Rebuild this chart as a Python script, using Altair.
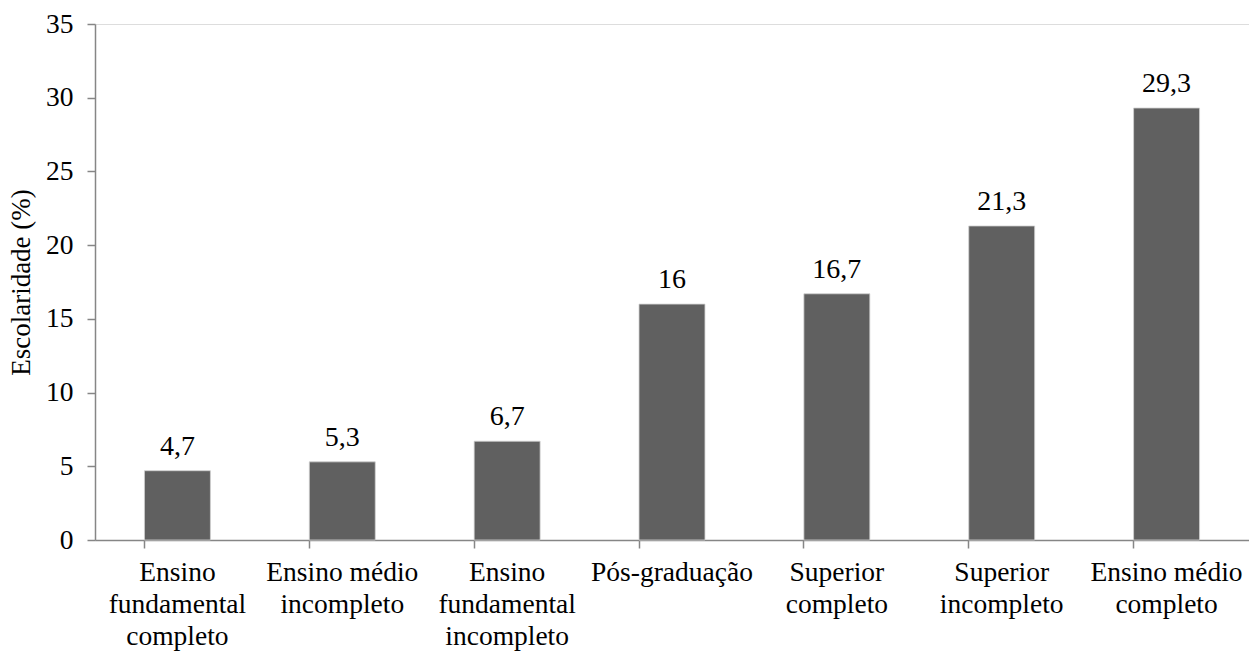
import altair as alt
import pandas as pd

# Education level categories (line breaks marked with "|") and share of respondents (%)
categories = [
    "Ensino|fundamental|completo",
    "Ensino médio|incompleto",
    "Ensino|fundamental|incompleto",
    "Pós-graduação",
    "Superior|completo",
    "Superior|incompleto",
    "Ensino médio|completo",
]
values = [4.7, 5.3, 6.7, 16, 16.7, 21.3, 29.3]
y_ticks = [0, 5, 10, 15, 20, 25, 30, 35]

df = pd.DataFrame({"categoria": categories, "valor": values})

FONT = "Liberation Serif"
AXIS_GRAY = "#868686"

x_enc = alt.X(
    "categoria:N",
    sort=categories,
    title=None,
    scale=alt.Scale(paddingInner=0.6, paddingOuter=0.3),
    axis=alt.Axis(
        labelAngle=0,
        labelExpr="split(datum.label, '|')",
        labelFont=FONT,
        labelFontSize=27.5,
        labelLineHeight=32,
        labelColor="black",
        labelPadding=10,
        labelLimit=300,
        tickSize=8,
        tickColor=AXIS_GRAY,
        domainColor=AXIS_GRAY,
        domainWidth=1.5,
        tickWidth=1.5,
        bandPosition=0,
    ),
)

y_enc = alt.Y(
    "valor:Q",
    title="Escolaridade (%)",
    scale=alt.Scale(domain=[0, 35], nice=False),
    axis=alt.Axis(
        values=y_ticks,
        labelFont=FONT,
        labelFontSize=27.5,
        labelColor="black",
        labelPadding=14,
        tickSize=8,
        tickColor=AXIS_GRAY,
        domainColor=AXIS_GRAY,
        domainWidth=1.5,
        tickWidth=1.5,
        grid=False,
        titleFont=FONT,
        titleFontSize=27,
        titleFontWeight="normal",
        titleColor="black",
        titlePadding=10,
    ),
)

bars = alt.Chart(df).mark_bar(color="#606060", stroke="#d0d0d0", strokeWidth=0.8).encode(
    x=x_enc, y=y_enc
)

labels = (
    alt.Chart(df)
    .transform_calculate(rotulo="replace(format(datum.valor, '.1~f'), '.', ',')")
    .mark_text(font=FONT, fontSize=28, color="black", baseline="alphabetic", dy=-16)
    .encode(x=alt.X("categoria:N", sort=categories), y="valor:Q", text="rotulo:N")
)

chart = (
    alt.layer(bars, labels)
    .properties(
        width=1154,
        height=516,
        autosize=alt.AutoSizeParams(type="none"),
        padding={"left": 95, "top": 24, "right": 0, "bottom": 113},
    )
    .configure_view(stroke=None)
    .configure(background="white", font=FONT)
)

chart.save("out.html", embed_options={"renderer": "svg", "actions": False})
